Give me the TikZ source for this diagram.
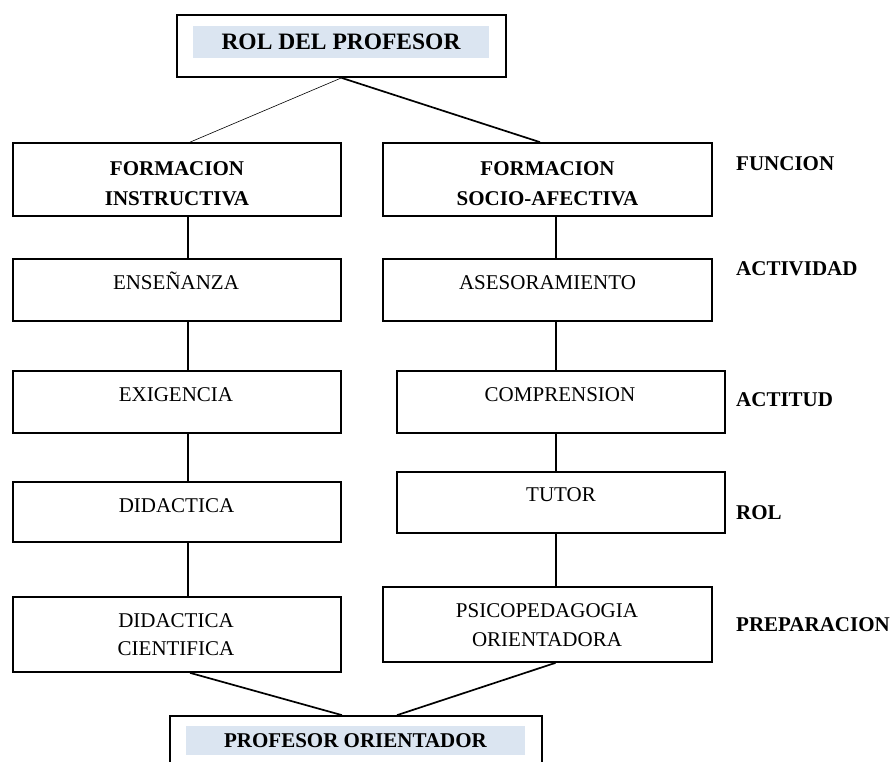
\documentclass[tikz,border=0pt]{standalone}
\usepackage{fontspec}
\setmainfont{Liberation Serif}
\usetikzlibrary{calc}
\definecolor{bandfill}{RGB}{219,229,241}
\begin{document}
\begin{tikzpicture}[x=1pt,y=-1pt,
  box/.style={draw=black, line width=1.7pt, inner sep=0pt},
  link/.style={draw=black, line width=1.7pt},
  thinlink/.style={draw=black, line width=0.6pt},
  txt/.style={inner sep=0pt, anchor=base, align=center,
              font=\fontsize{21}{29}\selectfont},
  btxt/.style={txt, font=\fontsize{21}{29}\selectfont\bfseries},
  sidelabel/.style={inner sep=0pt, anchor=base west,
              font=\fontsize{21}{29}\selectfont\bfseries}
]
\useasboundingbox (0,0) rectangle (894,761);
\clip (0,0) rectangle (894,761);

% column guides for the vertical connectors
\coordinate (lx) at (188,0);
\coordinate (rx) at (556,0);

% title box
\fill[bandfill] (193,26) rectangle (489,58);
\node[box, minimum width=329pt, minimum height=62pt] (top) at (341.5,46) {};
\node[btxt, font=\fontsize{23.5}{29}\selectfont\bfseries] (toptxt) at (341,49.5) {ROL DEL PROFESOR};

% left column
\node[box, minimum width=328pt, minimum height=73pt] (l1) at (177,179.5) {};
\node[box, minimum width=328pt, minimum height=62pt] (l2) at (177,290) {};
\node[box, minimum width=328pt, minimum height=62pt] (l3) at (177,402) {};
\node[box, minimum width=328pt, minimum height=60pt] (l4) at (177,512) {};
\node[box, minimum width=328pt, minimum height=75pt] (l5) at (177,634.5) {};

% right column
\node[box, minimum width=329pt, minimum height=73pt] (r1) at (547.5,179.5) {};
\node[box, minimum width=329pt, minimum height=62pt] (r2) at (547.5,290) {};
\node[box, minimum width=328pt, minimum height=62pt] (r3) at (561,402) {};
\node[box, minimum width=328pt, minimum height=61pt] (r4) at (561,502.5) {};
\node[box, minimum width=329pt, minimum height=75pt] (r5) at (547.5,624.5) {};

% closing box
\fill[bandfill] (186,726) rectangle (525,755);
\node[box, minimum width=372pt, minimum height=62pt] (bot) at (356,747) {};
\node[btxt] (bottxt) at (355.5,747) {PROFESOR ORIENTADOR};

% box texts (two-line nodes sit on the baseline of their last line)
\node[btxt, font=\fontsize{21}{30}\selectfont\bfseries] (l1txt) at (177,205) {FORMACION\\INSTRUCTIVA};
\node[btxt, font=\fontsize{21}{30}\selectfont\bfseries] (r1txt) at (547.5,205) {FORMACION\\SOCIO-AFECTIVA};
\node[txt] (l2txt) at (176,289) {ENSEÑANZA};
\node[txt] (r2txt) at (547.5,289) {ASESORAMIENTO};
\node[txt] (l3txt) at (176,401) {EXIGENCIA};
\node[txt] (r3txt) at (560,401) {COMPRENSION};
\node[txt] (l4txt) at (176.5,512) {DIDACTICA};
\node[txt] (r4txt) at (561,501) {TUTOR};
\node[txt, font=\fontsize{21}{28}\selectfont] (l5txt) at (176,655) {DIDACTICA\\CIENTIFICA};
\node[txt, font=\fontsize{21}{29}\selectfont] (r5txt) at (547,646) {PSICOPEDAGOGIA\\ORIENTADORA};

% level labels
\node[sidelabel] (funcion) at (736,170) {FUNCION};
\node[sidelabel] (actividad) at (736,275) {ACTIVIDAD};
\node[sidelabel] (actitud) at (736,406) {ACTITUD};
\node[sidelabel] (rol) at (736,519) {ROL};
\node[sidelabel] (preparacion) at (736,631) {PREPARACION};

% connectors
\draw[thinlink] (top.south) -- ([xshift=13pt]l1.north);
\draw[link] (top.south) -- ([xshift=-7.5pt]r1.north);

\draw[link] (l1.south -| lx) -- (l2.north -| lx);
\draw[link] (l2.south -| lx) -- (l3.north -| lx);
\draw[link] (l3.south -| lx) -- (l4.north -| lx);
\draw[link] (l4.south -| lx) -- (l5.north -| lx);

\draw[link] (r1.south -| rx) -- (r2.north -| rx);
\draw[link] (r2.south -| rx) -- (r3.north -| rx);
\draw[link] (r3.south -| rx) -- (r4.north -| rx);
\draw[link] (r4.south -| rx) -- (r5.north -| rx);

\draw[link] ([xshift=13pt]l5.south) -- ([xshift=-14pt]bot.north);
\draw[link] ([xshift=8pt]r5.south) -- ([xshift=41pt]bot.north);
\end{tikzpicture}
\end{document}
